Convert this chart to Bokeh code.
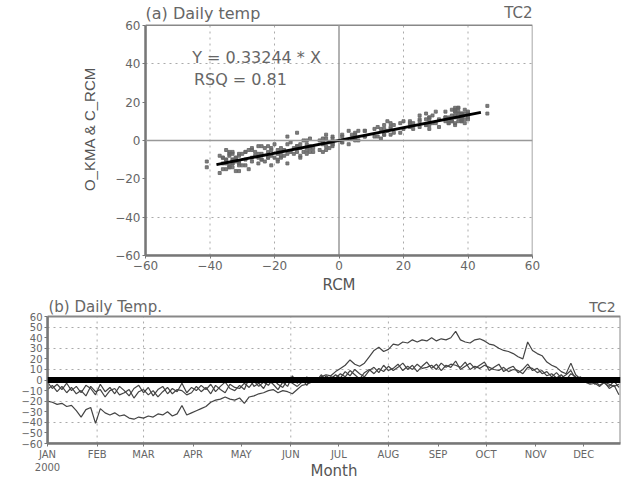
from bokeh.plotting import figure
from bokeh.models import Range1d, FixedTicker, Label, Span, ColumnDataSource
from bokeh.embed import file_html
from bokeh.resources import INLINE

# ---------------- data ----------------
days = [0, 3, 6, 9, 12, 15, 18, 21, 24, 27, 30, 33, 36, 39, 42, 45, 48, 51, 54, 57,
        60, 63, 66, 69, 72, 75, 78, 81, 84, 87, 90, 93, 96, 99, 102, 105, 108, 111, 114, 117,
        120, 123, 126, 129, 132, 135, 138, 141, 144, 147, 150, 153, 156, 159, 162, 165, 168, 171, 174, 177,
        180, 183, 186, 189, 192, 195, 198, 201, 204, 207, 210, 213, 216, 219, 222, 225, 228, 231, 234, 237,
        240, 243, 246, 249, 252, 255, 258, 261, 264, 267, 270, 273, 276, 279, 282, 285, 288, 291, 294, 297,
        300, 303, 306, 309, 312, 315, 318, 321, 324, 327, 330, 333, 336, 339, 342, 345, 348, 351, 354, 357]

rcm = [-20, -21, -23, -22, -25, -24, -29, -35, -28, -26, -41, -27, -31, -33, -31, -34, -33, -36, -37, -35,
       -36, -34, -35, -32, -33, -30, -34, -32, -24, -33, -31, -29, -27, -25, -21, -19, -18, -16, -18, -19,
       -17, -22, -16, -15, -13, -12, -10, -9, -12, -10, -11, -13, -9, -5, -4, -2, 1, 3, 5, 4,
       8, 11, 14, 19, 15, 13, 16, 22, 28, 31, 27, 29, 34, 33, 36, 35, 38, 36, 38, 37,
       40, 37, 39, 38, 40, 46, 38, 36, 35, 38, 39, 37, 34, 33, 30, 28, 27, 25, 22, 20,
       36, 28, 25, 23, 17, 14, 12, 8, 6, 16, 5, 1, -2, -4, -3, -6, -2, -8, -5, -14]

o_kma = [-2, -8, -4, -9, -3, -10, -6, -12, -5, -8, -14, -4, -11, -7, -13, -6, -10, -15, -8, -5,
         -12, -7, -15, -9, -6, -13, -8, -11, -3, -12, -7, -10, -5, -9, -4, -11, -6, -2, -8, -10,
         -5, -9, 2, -6, -3, -8, 0, -4, -9, -2, -6, 4, -3, 1, -5, 2, -1, 5, 0, 3,
         2, 6, 3, 9, 5, 1, 7, 10, 6, 11, 8, 13, 9, 12, 16, 10, 14, 8, 13, 17,
         11, 15, 9, 14, 12, 18, 10, 13, 16, 11, 14, 17, 9, 12, 15, 8, 11, 13, 7, 10,
         15, 9, 11, 6, 8, 3, 7, 2, 5, 9, 1, 3, -2, 1, -4, 0, -3, -6, -1, -7]

c_rcm = [-9, -5, -11, -6, -12, -7, -13, -10, -15, -6, -11, -9, -16, -10, -8, -14, -12, -9, -17, -11,
         -9, -14, -10, -16, -11, -7, -13, -9, -10, -14, -12, -6, -11, -7, -13, -5, -9, -12, -4, -7,
         -8, -3, -7, -1, -6, -2, -5, 1, -4, -7, 0, -3, -6, -2, 3, -1, 2, -2, 4, 1,
         5, 2, 8, 4, 10, 6, 3, 9, 12, 7, 14, 9, 11, 15, 9, 13, 10, 15, 11, 12,
         14, 10, 16, 12, 15, 14, 12, 17, 10, 13, 11, 14, 12, 10, 9, 12, 8, 10, 9, 6,
         12, 11, 7, 9, 4, 6, 2, 5, 0, 6, 3, -1, 1, -3, -1, -5, -2, -4, -6, -4]

slope = 0.33244
rsq = 0.81
fit_x = [-38, 44]

a_ticks = [-60, -40, -20, 0, 20, 40, 60]
a_vgrid = [-40, -20, 20, 40]
a_hgrid = [-40, 40]

month_ticks = [0, 31, 60, 91, 121, 152, 182, 213, 244, 274, 305, 335]
month_labels = ["JAN\n2000", "FEB", "MAR", "APR", "MAY", "JUN", "JUL", "AUG", "SEP", "OCT", "NOV", "DEC"]
b_yticks = [-60, -50, -40, -30, -20, -10, 0, 10, 20, 30, 40, 50, 60]
b_vgrid = [31, 60, 152, 213, 274]
b_hgrid = [50, 30, 10, -20, -40]

LO, HI = -60, 60          # value limits of both boxes
DAY_END = 358             # right end of panel (b)

# ---------------- styling helpers ----------------
TXT = "#666666"
FONT = "DejaVu Sans"
GRID = "#aaaaaa"


def style_axes(p, tick_size):
    for ax in (p.xaxis, p.yaxis):
        ax.axis_line_color = "#777777"
        ax.axis_line_width = 2.5
        ax.major_tick_line_color = "#777777"
        ax.major_tick_out = 3
        ax.major_tick_in = 0
        ax.minor_tick_line_color = None
        ax.major_label_text_color = TXT
        ax.major_label_text_font = FONT
        ax.major_label_text_font_size = tick_size
        ax.major_label_standoff = 2
        ax.axis_label_text_color = "#555555"
        ax.axis_label_text_font_style = "normal"
    p.yaxis.bounds = (LO, HI)
    p.outline_line_color = None
    p.xgrid.grid_line_color = None
    p.ygrid.grid_line_color = GRID
    p.ygrid.grid_line_dash = "2 4"
    p.ygrid.grid_line_width = 1


# ---------------- panel (a) ----------------
scat = ColumnDataSource(dict(x=rcm + rcm, y=o_kma + c_rcm))

p1 = figure(width=621, height=296, x_range=Range1d(LO, HI), y_range=Range1d(LO, 71.9),
            output_backend="svg", toolbar_location=None,
            min_border_left=145, min_border_right=89, min_border_top=2, min_border_bottom=40)
style_axes(p1, "12px")
p1.xaxis.ticker = FixedTicker(ticks=a_ticks)
p1.yaxis.ticker = FixedTicker(ticks=a_ticks)
p1.ygrid.ticker = FixedTicker(ticks=a_hgrid)
p1.segment(x0=a_vgrid, y0=[LO] * len(a_vgrid), x1=a_vgrid, y1=[HI] * len(a_vgrid),
           line_color=GRID, line_dash="2 4", line_width=1)
p1.quad(left=[LO], right=[HI], bottom=[LO], top=[HI], fill_color=None,
        line_color="#888888", line_width=1.5)
p1.xaxis.axis_label = "RCM"
p1.xaxis.axis_label_text_font = FONT
p1.xaxis.axis_label_text_font_size = "15px"
p1.xaxis.axis_label_standoff = 3
p1.yaxis.axis_label = "O_KMA & C_RCM"
p1.yaxis.axis_label_text_font = "Liberation Sans"
p1.yaxis.axis_label_text_font_size = "15px"
p1.yaxis.axis_label_standoff = 14

p1.add_layout(Span(location=0, dimension="width", line_color="#999999", line_width=1.5))
p1.segment(x0=[0], y0=[LO], x1=[0], y1=[HI], line_color="#999999", line_width=1.5)

p1.scatter("x", "y", source=scat, marker="square", size=3, color="#666666", alpha=0.85)
p1.line(fit_x, [slope * v for v in fit_x], line_color="black", line_width=3)

p1.add_layout(Label(x=-45.5, y=43, text=f"Y = {slope} * X", text_color=TXT,
                    text_font=FONT, text_font_size="16px", text_baseline="middle"))
p1.add_layout(Label(x=-45, y=32, text=f"RSQ = {rsq}", text_color=TXT,
                    text_font=FONT, text_font_size="16px", text_baseline="middle"))
p1.add_layout(Label(x=LO, y=66.2, text="(a) Daily temp", text_color=TXT,
                    text_font=FONT, text_font_size="16px", text_baseline="middle"))
p1.add_layout(Label(x=HI, y=66.2, text="TC2", text_color=TXT, text_align="right",
                    text_font=FONT, text_font_size="15px", text_baseline="middle"))

# ---------------- panel (b) ----------------
p2 = figure(width=621, height=186, x_range=Range1d(0, DAY_END), y_range=Range1d(LO, 79),
            output_backend="svg", toolbar_location=None,
            min_border_left=47, min_border_right=1, min_border_top=0, min_border_bottom=36)
style_axes(p2, "10px")
p2.xaxis.ticker = FixedTicker(ticks=month_ticks)
p2.xaxis.major_label_overrides = {t: l for t, l in zip(month_ticks, month_labels)}
p2.yaxis.ticker = FixedTicker(ticks=b_yticks)
p2.ygrid.ticker = FixedTicker(ticks=b_hgrid)
p2.segment(x0=b_vgrid, y0=[LO] * len(b_vgrid), x1=b_vgrid, y1=[HI] * len(b_vgrid),
           line_color=GRID, line_dash="2 4", line_width=1)
p2.quad(left=[0], right=[DAY_END], bottom=[LO], top=[HI], fill_color=None,
        line_color="#888888", line_width=2)
p2.xaxis.axis_label = "Month"
p2.xaxis.axis_label_text_font = FONT
p2.xaxis.axis_label_text_font_size = "15px"
p2.xaxis.axis_label_standoff = -14

for series in (rcm, o_kma, c_rcm):
    p2.line(days, series, line_color="#444444", line_width=1.2)
p2.add_layout(Span(location=0, dimension="width", line_color="black", line_width=6))

p2.add_layout(Label(x=0.6, y=69.2, text="(b) Daily Temp.", text_color=TXT,
                    text_font=FONT, text_font_size="15px", text_baseline="middle"))
p2.add_layout(Label(x=355, y=69.2, text="TC2", text_color=TXT, text_align="right",
                    text_font=FONT, text_font_size="14px", text_baseline="middle"))

open("out.html", "w").write(file_html([p1, p2], INLINE))
